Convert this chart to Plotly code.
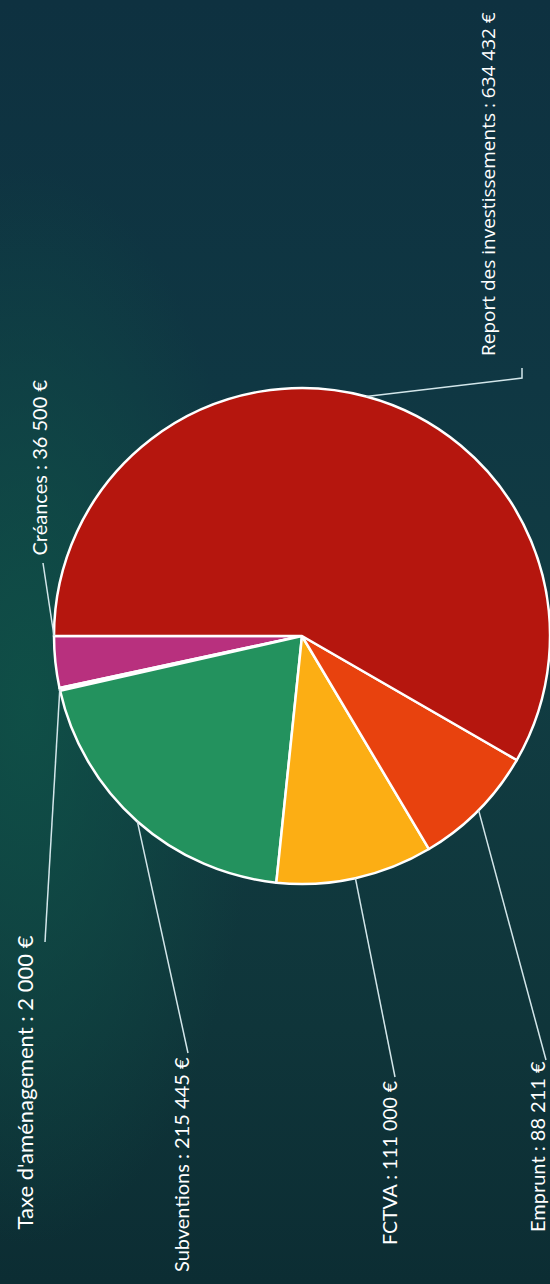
import base64
import math
import plotly.graph_objects as go

# ---------------- data ----------------
labels = ["Créances", "Taxe d'aménagement", "Subventions", "FCTVA", "Emprunt",
          "Report des investissements"]
values = [36500, 2000, 215445, 111000, 88211, 634432]
colors = ["#B8307E", "#F2F2F2", "#23925E", "#FCAE14", "#E8420E", "#B5160E"]

# ---------------- geometry / layout constants ----------------
W, H = 550, 1284
CX, CY, R = 302, 636, 248          # pie centre and radius in pixels
START = 180.0                      # first slice starts at 9 o'clock (math angle)

# leader-line anchor position inside each slice (0=start edge, 0.5=middle)
anchor_frac = [0.0, 0.5, 0.5, 0.5, 0.5, 0.5]
# leader end points (pixels) and label centres (pixels)
leader_mid = [None, None, None, None, None, (522, 378)]
leader_end = [(43, 563), (45, 942), (188, 1053), (395, 1077), (546, 1060), (522, 368)]
label_pos = [(38.5, 468), (23.5, 1083), (181, 1165), (389, 1163), (537, 1147), (488, 184)]
label_font = ["Lato", "Lato", "Lato", "Lato", "Lato", "Open Sans"]
label_size = [20, 22, 20, 19.5, 20, 19]


def px(x):
    return x / W


def py(y):
    return 1 - y / H


def fmt(v):
    return f"{v:,}".replace(",", " ") + " €"


total = sum(values)
# plotly: with counterclockwise direction the first slice lies clockwise of `rotation`
rotation = -90 - 360 * values[0] / total

fig = go.Figure()
fig.add_trace(go.Pie(
    labels=labels, values=values, sort=False, direction="counterclockwise",
    rotation=rotation, textinfo="none", hoverinfo="label+value",
    marker=dict(colors=colors, line=dict(color="#FFFFFF", width=2.5)),
    domain=dict(x=[px(CX - R), px(CX + R)], y=[py(CY + R), py(CY - R)]),
    showlegend=False,
))

shapes = []
annotations = []
cum = 0.0
for i, (lab, v) in enumerate(zip(labels, values)):
    a0 = START + 360 * cum / total
    a1 = START + 360 * (cum + v) / total
    cum += v
    ang = math.radians(a0 + (a1 - a0) * anchor_frac[i])
    ax = CX + R * math.cos(ang)
    ay = CY - R * math.sin(ang)
    pts = [(ax, ay)]
    if leader_mid[i]:
        pts.append(leader_mid[i])
    pts.append(leader_end[i])
    path = "M " + " L ".join(f"{px(x):.5f},{py(y):.5f}" for x, y in pts)
    shapes.append(dict(type="path", xref="paper", yref="paper", path=path,
                       line=dict(color="#D3E6EA", width=1.5), layer="above"))
    lx, ly = label_pos[i]
    annotations.append(dict(
        x=px(lx), y=py(ly), xref="paper", yref="paper", showarrow=False,
        text=f"{lab} : {fmt(v)}", textangle=-90, xanchor="center", yanchor="middle",
        font=dict(family=label_font[i], size=label_size[i], color="#FFFFFF"),
    ))

svg = f"""<svg xmlns='http://www.w3.org/2000/svg' width='{W}' height='{H}'>
<defs>
<linearGradient id='g' x1='0' y1='0' x2='0' y2='1'>
<stop offset='0' stop-color='#0e3140'/>
<stop offset='0.3' stop-color='#0f3743'/>
<stop offset='0.5' stop-color='#113d43'/>
<stop offset='0.8' stop-color='#0f353a'/>
<stop offset='1' stop-color='#0c2d33'/>
</linearGradient>
<radialGradient id='r' cx='0.05' cy='0.55' r='0.42'>
<stop offset='0' stop-color='#0f5047' stop-opacity='0.95'/>
<stop offset='1' stop-color='#0f5047' stop-opacity='0'/>
</radialGradient>
</defs>
<rect width='{W}' height='{H}' fill='url(#g)'/>
<rect width='{W}' height='{H}' fill='url(#r)'/>
</svg>"""
src = "data:image/svg+xml;base64," + base64.b64encode(svg.encode()).decode()

fig.update_layout(
    width=W, height=H, margin=dict(l=0, r=0, t=0, b=0),
    paper_bgcolor="#113540", plot_bgcolor="#113540",
    shapes=shapes, annotations=annotations,
    images=[dict(source=src, xref="paper", yref="paper", x=0, y=1, sizex=1, sizey=1,
                 sizing="stretch", layer="below", xanchor="left", yanchor="top")],
)
fig.write_html("out.html", config={"displayModeBar": False},
               post_script="document.body.style.margin='0';")
